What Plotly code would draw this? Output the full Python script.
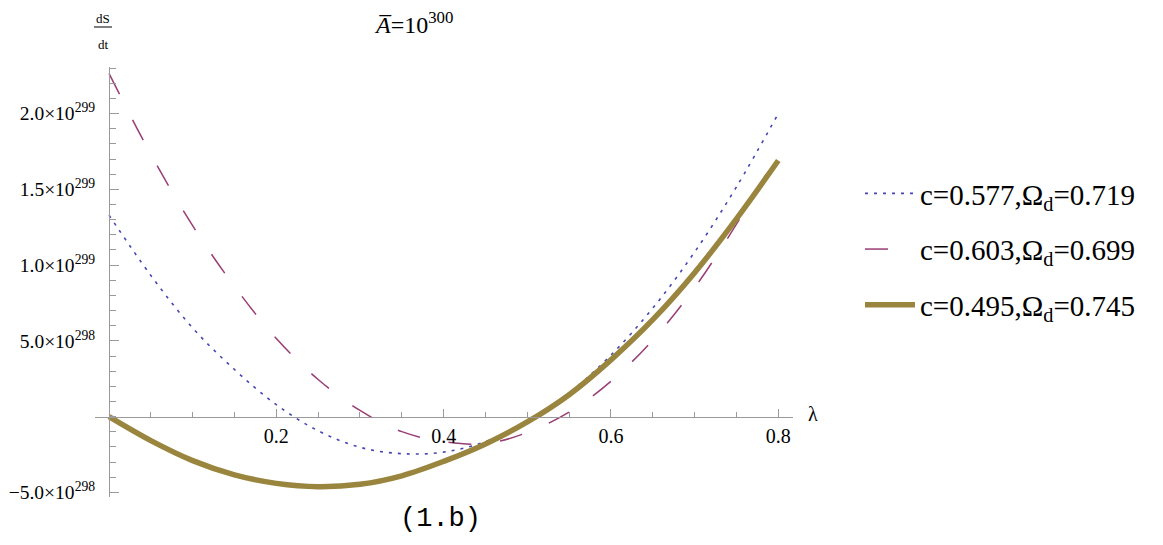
import numpy as np
import plotly.graph_objects as go

# lambda sample points
lam = [0.0, 0.05, 0.10, 0.15, 0.20, 0.25, 0.30, 0.35, 0.40,
       0.45, 0.50, 0.55, 0.60, 0.65, 0.70, 0.75, 0.80]

# dS/dt in units of 1e299
ds_c0577 = [1.33, 0.932, 0.585, 0.311, 0.079, -0.093, -0.202, -0.244, -0.234,
            -0.164, -0.034, 0.156, 0.406, 0.716, 1.086, 1.516, 2.0]
ds_c0603 = [2.265, 1.731, 1.260, 0.859, 0.515, 0.245, 0.041, -0.099, -0.165,
            -0.178, -0.104, 0.030, 0.234, 0.506, 0.851, 1.270, 1.74]
ds_c0495 = [0.0, -0.158, -0.290, -0.384, -0.440, -0.462, -0.446, -0.390, -0.295,
            -0.180, -0.035, 0.145, 0.375, 0.640, 0.950, 1.305, 1.69]

labels = ["c=0.577,\u03a9<sub>d</sub>=0.719",
          "c=0.603,\u03a9<sub>d</sub>=0.699",
          "c=0.495,\u03a9<sub>d</sub>=0.745"]

ytick_vals = [-0.5, 0.5, 1.0, 1.5, 2.0]
ytick_text = ["\u22125.0\u00d710<sup>298</sup>", "5.0\u00d710<sup>298</sup>",
              "1.0\u00d710<sup>299</sup>", "1.5\u00d710<sup>299</sup>",
              "2.0\u00d710<sup>299</sup>"]
xtick_vals = [0.2, 0.4, 0.6, 0.8]

SCALE = 1e299
SERIF = "Liberation Serif"
AXIS = "#9a9a9a"

# the page puts the figure 8px in from the top-left corner
OFF = 8
W, H = 1163 - 2 * OFF, 545 - 2 * OFF
# plot area edges in window pixels
X0, X1, Y0, Y1 = 95, 793, 67, 497
ML, MT = X0 - OFF, Y0 - OFF
MR, MB = W - (X1 - OFF), H - (Y1 - OFF)
xr = [-0.01674, 0.8176]
yr = [-0.53, 2.307]


def px(x):
    return (x - X0) / (X1 - X0)


def py(y):
    return (Y1 - y) / (Y1 - Y0)


fig = go.Figure()
styles = [
    dict(color="#4646b4", width=1.6, dash="3px,6px"),
    dict(color="#993d74", width=1.5, dash="23px,29px"),
    dict(color="#99853d", width=5.5),
]
for ys, name, st in zip([ds_c0577, ds_c0603, ds_c0495], labels, styles):
    fig.add_trace(go.Scatter(
        x=lam, y=np.array(ys) * SCALE, mode="lines", name=name,
        line=dict(shape="spline", **st), legendgroup=name,
    ))

fig.update_layout(
    width=W, height=H,
    margin=dict(l=ML, r=MR, t=MT, b=MB, autoexpand=False),
    plot_bgcolor="white", paper_bgcolor="white",
    font=dict(family=SERIF, color="black"),
    xaxis=dict(
        range=xr, showgrid=False, zeroline=False, automargin=False,
        showline=True, linecolor=AXIS, linewidth=1,
        anchor="free", position=(0 - yr[0]) / (yr[1] - yr[0]),
        ticks="inside", ticklen=8, tickcolor=AXIS,
        tickvals=xtick_vals, ticktext=[str(v) for v in xtick_vals],
        tickfont=dict(size=20, family=SERIF), ticklabelstandoff=1,
        minor=dict(ticks="inside", ticklen=5, tickcolor=AXIS,
                   tick0=0, dtick=0.05, showgrid=False),
    ),
    yaxis=dict(
        range=[v * SCALE for v in yr], showgrid=False, zeroline=False, automargin=False,
        showline=True, linecolor=AXIS, linewidth=1,
        anchor="free", position=(0 - xr[0]) / (xr[1] - xr[0]),
        ticks="inside", ticklen=9, tickcolor=AXIS,
        tickvals=[v * SCALE for v in ytick_vals], ticktext=ytick_text,
        tickfont=dict(size=19.5, family=SERIF), ticklabelstandoff=10,
        minor=dict(ticks="inside", ticklen=6, tickcolor=AXIS,
                   tick0=0, dtick=0.1 * SCALE, showgrid=False),
    ),
    legend=dict(
        x=px(860), y=py(168), xanchor="left", yanchor="top",
        font=dict(size=29, family=SERIF), tracegroupgap=15,
        itemwidth=50, bgcolor="rgba(0,0,0,0)",
    ),
    showlegend=True,
)

annots = [
    dict(x=px(413), y=py(23), text="<i>A\u0305</i>=10<sup>300</sup>", size=24, family=SERIF),
    dict(x=px(103), y=py(18), text="dS", size=13, family=SERIF),
    dict(x=px(103), y=py(44), text="dt", size=13, family=SERIF),
    dict(x=px(813), y=py(414), text="\u03bb", size=20, family=SERIF),
    dict(x=px(440), y=py(519), text="(1.b)", size=27, family="Liberation Mono"),
]
for a in annots:
    fig.add_annotation(x=a["x"], y=a["y"], xref="paper", yref="paper",
                       text=a["text"], showarrow=False,
                       xanchor="center", yanchor="middle",
                       font=dict(size=a["size"], family=a["family"], color="black"))

fig.add_shape(type="line", xref="paper", yref="paper",
              x0=px(94), x1=px(112), y0=py(27), y1=py(27),
              line=dict(color="black", width=1))

fig.write_html("out.html")
